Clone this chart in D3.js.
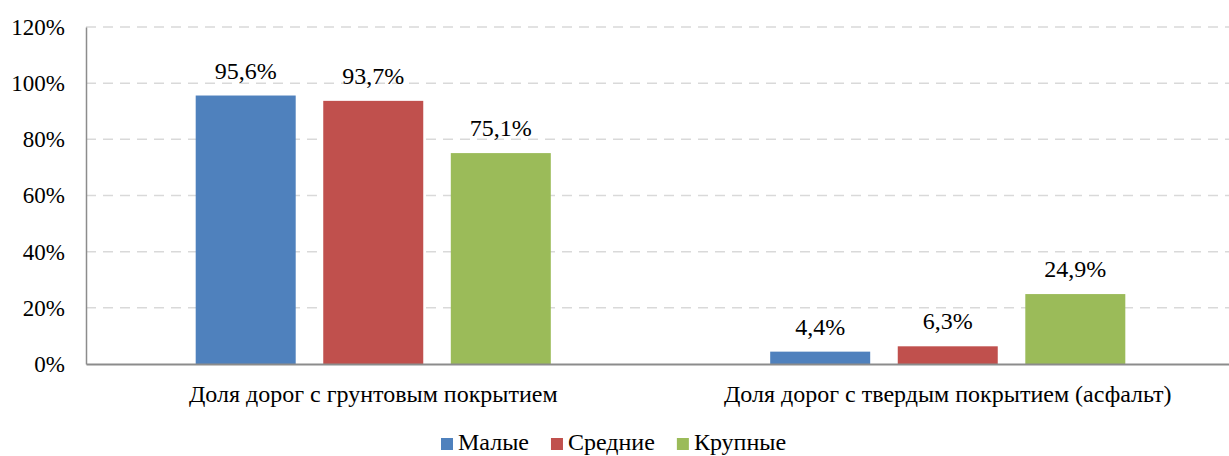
<!DOCTYPE html>
<html>
<head>
<meta charset="utf-8">
<script src="https://cdn.jsdelivr.net/npm/d3@7"></script>
<style>
  body { margin: 0; background: #fff; }
  svg text { font-family: "Liberation Serif", Tinos, "Times New Roman", serif !important; }
</style>
</head>
<body>
<div id="chart"></div>
<script>
// data
let categories = ['Доля дорог с грунтовым покрытием', 'Доля дорог с твердым покрытием (асфальт)']
let seriesNames = ['Малые', 'Средние', 'Крупные']
let small = [95.6, 4.4]
let medium = [93.7, 6.3]
let large = [75.1, 24.9]
let yTicks = [0, 20, 40, 60, 80, 100, 120]
let colors = ['#4F81BD', '#C0504D', '#9BBB59']

let W = 1229
let H = 456
let margin = { top: 27, left: 86, right: -6, bottom: 92 }
let width = W - margin.left - margin.right
let height = H - margin.top - margin.bottom

let rows = categories.map((c, i) => ({
  category: c,
  values: [small[i], medium[i], large[i]]
}))

let svg = d3.select('#chart')
  .append('svg')
  .attr('width', W)
  .attr('height', H)

let g = svg.append('g')
  .attr('transform', `translate(${margin.left},${margin.top})`)

let x0 = d3.scaleBand()
  .domain(categories)
  .range([0, width])
  .padding(0)

let x1 = d3.scaleBand()
  .domain(seriesNames)
  .range([0, x0.bandwidth()])
  .paddingInner(0.216)
  .paddingOuter(0.86)

let y = d3.scaleLinear()
  .domain([0, 120])
  .range([height, 0])

let fmt = v => v.toFixed(1).replace('.', ',') + '%'

// gridlines
g.append('g')
  .selectAll('line')
  .data(yTicks.filter(t => t > 0))
  .enter()
  .append('line')
  .attr('x1', 0)
  .attr('x2', width)
  .attr('y1', d => y(d))
  .attr('y2', d => y(d))
  .attr('stroke', '#d9d9d9')
  .attr('stroke-width', 1.5)
  .attr('stroke-dasharray', '10,7')

// bars
let groups = g.selectAll('.group')
  .data(rows)
  .enter()
  .append('g')
  .attr('class', 'group')
  .attr('transform', d => `translate(${x0(d.category)},0)`)

groups.selectAll('rect')
  .data(d => d.values.map((v, i) => ({ key: seriesNames[i], value: v, i: i })))
  .enter()
  .append('rect')
  .attr('x', d => x1(d.key))
  .attr('y', d => y(d.value))
  .attr('width', x1.bandwidth())
  .attr('height', d => height - y(d.value))
  .attr('fill', d => colors[d.i])

groups.selectAll('.label')
  .data(d => d.values.map((v, i) => ({ key: seriesNames[i], value: v })))
  .enter()
  .append('text')
  .attr('class', 'label')
  .attr('x', d => x1(d.key) + x1.bandwidth() / 2)
  .attr('y', d => y(d.value) - 17)
  .attr('text-anchor', 'middle')
  .attr('font-size', 24)
  .attr('fill', '#000')
  .text(d => fmt(d.value))

// y axis
let yAxis = g.append('g')
  .call(d3.axisLeft(y).tickValues(yTicks).tickSize(0).tickPadding(21).tickFormat(d => d + '%'))
yAxis.select('.domain').attr('stroke', '#8c8c8c').attr('stroke-width', 1.5)
yAxis.selectAll('text')
  .attr('font-size', 23)
  .attr('fill', '#000')

// x axis
let xAxis = g.append('g')
  .attr('transform', `translate(0,${height})`)
  .call(d3.axisBottom(x0).tickSize(0).tickPadding(21))
xAxis.select('.domain').attr('stroke', '#8c8c8c').attr('stroke-width', 2)
xAxis.selectAll('text')
  .attr('font-size', 24)
  .attr('fill', '#000')

// legend
let legend = svg.append('g')
  .attr('transform', `translate(441,${H - 6})`)
let offset = 0
seriesNames.forEach((name, i) => {
  let item = legend.append('g').attr('transform', `translate(${offset},0)`)
  item.append('rect')
    .attr('x', 0)
    .attr('y', -12)
    .attr('width', 12)
    .attr('height', 12)
    .attr('fill', colors[i])
  let t = item.append('text')
    .attr('x', 17)
    .attr('y', 0)
    .attr('font-size', 24)
    .attr('fill', '#000')
    .text(name)
  offset += 17 + t.node().getComputedTextLength() + 22
})
</script>
</body>
</html>
